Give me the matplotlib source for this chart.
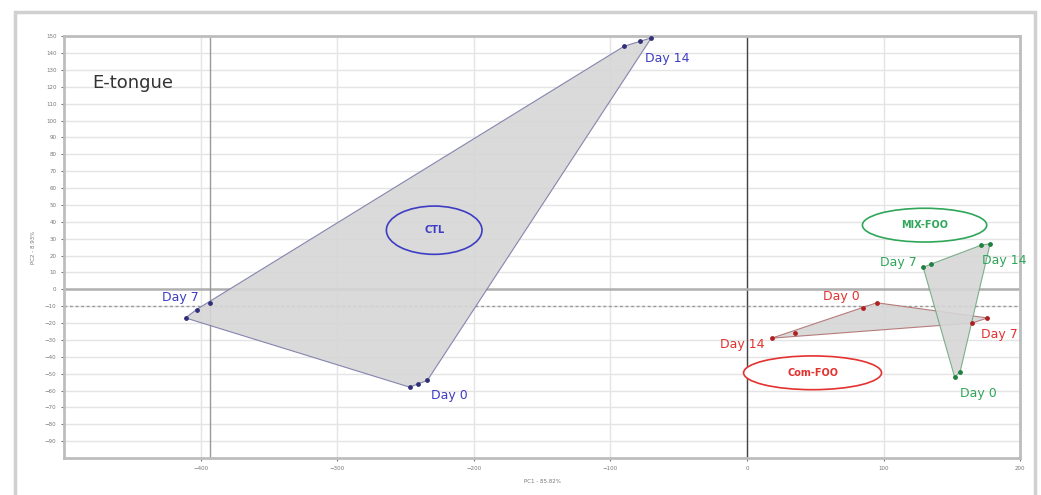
import numpy as np
import matplotlib.pyplot as plt
from matplotlib.patches import Ellipse, Polygon

# PCA scores, two replicates per sampling day
ctl_x  = [-90, -78, -70, -393, -403, -411, -247, -241, -234]
ctl_y  = [144, 147, 149, -8, -12, -17, -58, -56, -54]
com_x  = [18, 35, 85, 95, 165, 176]
com_y  = [-29, -26, -11, -8, -20, -17]
mix_x  = [129, 135, 171, 178, 152, 156]
mix_y  = [13, 15, 26, 27, -52, -49]

# day labels: (text, x, y, ha)
ctl_lab = [('Day 14', -75, 137, 'left'), ('Day 7', -401, -5, 'right'), ('Day 0', -231, -63, 'left')]
com_lab = [('Day 0', 69, -4, 'center'), ('Day 14', 13, -33, 'right'), ('Day 7', 171, -27, 'left')]
mix_lab = [('Day 7', 124, 16, 'right'), ('Day 14', 172, 17, 'left'), ('Day 0', 156, -62, 'left')]

blue  = '#3d3dc4'
red   = '#e3322f'
green = '#2fa659'


def hull(xs, ys):
    pts = sorted(set(zip(xs, ys)))
    def cross(o, a, b):
        return (a[0]-o[0])*(b[1]-o[1]) - (a[1]-o[1])*(b[0]-o[0])
    lower, upper = [], []
    for p in pts:
        while len(lower) >= 2 and cross(lower[-2], lower[-1], p) <= 0:
            lower.pop()
        lower.append(p)
    for p in reversed(pts):
        while len(upper) >= 2 and cross(upper[-2], upper[-1], p) <= 0:
            upper.pop()
        upper.append(p)
    return lower[:-1] + upper[:-1]


fig = plt.figure(figsize=(10.41, 4.95), dpi=100)
# outer frame
fig.patches.append(plt.Rectangle((0.014, -0.01), 0.980, 0.985, transform=fig.transFigure,
                                 fill=False, edgecolor='#d0d0d0', linewidth=2.5))
ax = fig.add_axes([0.0615, 0.0747, 0.9185, 0.8523])

ax.set_xlim(-500, 200)
ax.set_ylim(-100, 150)
ax.set_xticks(range(-400, 201, 100))
ax.set_yticks(range(-90, 151, 10))
ax.grid(True, color='#e4e4e4', linewidth=1)
ax.set_axisbelow(True)
ax.tick_params(labelsize=4, colors='#777777', length=2)
for s in ax.spines.values():
    s.set_color('#bdbdbd')
    s.set_linewidth(2)
ax.set_xlabel('PC1 - 85.82%', fontsize=4, color='#777777', labelpad=6)
ax.set_ylabel('PC2 - 8.93%', fontsize=4, color='#777777', labelpad=6)

# reference lines
ax.axvline(0, color='#444444', linewidth=1, zorder=1)
ax.axhline(0, color='#b0b0b0', linewidth=1.8, zorder=1)
ax.axhline(-10, color='#999999', linewidth=1, linestyle=(0, (2, 2)), zorder=1)
ax.axvline(-393, color='#999999', linewidth=1, zorder=1)

for xs, ys, col in [(ctl_x, ctl_y, '#7a7aa8'), (com_x, com_y, '#b07070'), (mix_x, mix_y, '#70a880')]:
    ax.add_patch(Polygon(hull(xs, ys), closed=True, facecolor='#d6d6d6', edgecolor=col,
                         linewidth=0.8, alpha=0.9, zorder=2))

ax.scatter(ctl_x, ctl_y, s=6, color='#30307a', zorder=3)
ax.scatter(com_x, com_y, s=6, color='#b02020', zorder=3)
ax.scatter(mix_x, mix_y, s=6, color='#208040', zorder=3)

for labs, col in [(ctl_lab, blue), (com_lab, red), (mix_lab, green)]:
    for t, x, y, ha in labs:
        ax.text(x, y, t, color=col, fontsize=9, ha=ha, va='center', zorder=4, clip_on=False)

# group ellipses
ax.add_patch(Ellipse((-229, 35), 70, 28.6, facecolor='none', edgecolor=blue, linewidth=1.2, zorder=4))
ax.text(-229, 35, 'CTL', color=blue, fontsize=7, fontweight='bold', ha='center', va='center', zorder=5)
ax.add_patch(Ellipse((130, 38), 91, 20, facecolor='white', edgecolor=green, linewidth=1.2, zorder=4))
ax.text(130, 38, 'MIX-FOO', color=green, fontsize=7, fontweight='bold', ha='center', va='center', zorder=5)
ax.add_patch(Ellipse((48, -49.5), 101, 20, facecolor='white', edgecolor=red, linewidth=1.2, zorder=4))
ax.text(48, -49.5, 'Com-FOO', color=red, fontsize=7, fontweight='bold', ha='center', va='center', zorder=5)

ax.text(-479, 122, 'E-tongue', fontsize=13, color='#333333', ha='left', va='center')

fig.savefig('out.png', dpi=100)
